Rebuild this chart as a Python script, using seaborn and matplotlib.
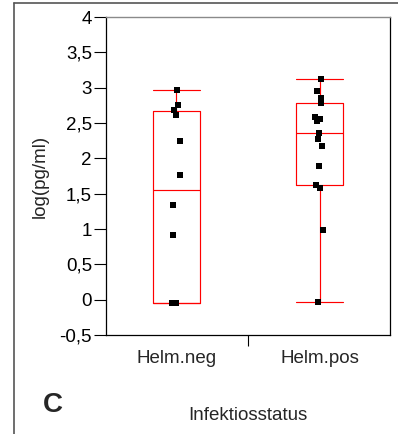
import numpy as np
import pandas as pd
import matplotlib
matplotlib.use("Agg")
import matplotlib.pyplot as plt
import matplotlib.cbook as cbook
from matplotlib.lines import Line2D
from matplotlib.ticker import FixedLocator
import seaborn as sns

# Cytokine levels by infection status
groups = ["Helm.neg", "Helm.pos"]
helm_neg = [2.96, 2.76, 2.69, 2.61, 2.24, 1.76, 1.34, 0.91, -0.05, -0.05, -0.05, -0.05]
helm_pos = [3.12, 2.95, 2.86, 2.78, 2.59, 2.56, 2.53, 2.36, 2.28, 2.18, 1.89, 1.62,
            1.58, 0.98, -0.03]
y_ticks = [-0.5, 0, 0.5, 1, 1.5, 2, 2.5, 3, 3.5, 4]
y_tick_labels = ["-0,5", "0", "0,5", "1", "1,5", "2", "2,5", "3", "3,5", "4"]
x_title = "Infektiosstatus"
y_title = "log(pg/ml)"
panel = "C"

df = pd.DataFrame({
    x_title: [groups[0]] * len(helm_neg) + [groups[1]] * len(helm_pos),
    y_title: helm_neg + helm_pos,
})

# Quartiles by the weighted-average (p*(n+1)) definition used by SPSS
_boxplot_stats = cbook.boxplot_stats


def spss_boxplot_stats(X, *args, **kwargs):
    stats = _boxplot_stats(X, *args, **kwargs)
    arr = np.asarray(X, dtype=object)
    if arr.ndim == 1 and len(arr) and np.ndim(arr[0]) == 0:
        columns = [np.asarray(X, dtype=float)]
    else:
        columns = [np.asarray(c, dtype=float) for c in X]
    for s, x in zip(stats, columns):
        q1, med, q3 = np.percentile(x, [25, 50, 75], method="weibull")
        s["q1"], s["med"], s["q3"] = q1, med, q3
        s["iqr"] = q3 - q1
    return stats


cbook.boxplot_stats = spss_boxplot_stats
matplotlib.cbook.boxplot_stats = spss_boxplot_stats

sns.set_style("white")
plt.rcParams["font.family"] = ["Liberation Sans", "DejaVu Sans"]

fig = plt.figure(figsize=(3.98, 4.34), dpi=100)
ax = fig.add_axes([106 / 398, 1 - 335 / 434, (390 - 106) / 398, (335 - 17) / 434])

box_w = 0.33
sns.boxplot(data=df, x=x_title, y=y_title, order=groups, ax=ax,
            fill=False, color="#ff0000", linewidth=0.85, width=box_w,
            whis=(0, 100), showfliers=False, capwidths=box_w)

np.random.seed(3)
sns.stripplot(data=df, x=x_title, y=y_title, order=groups, ax=ax,
              color="black", marker="s", size=3.7, linewidth=0, jitter=0.035)

ax.set_xlim(-0.49, 1.49)
ax.set_ylim(-0.5, 4)
ax.set_yticks(y_ticks)
ax.set_yticklabels(y_tick_labels)
ax.tick_params(axis="y", direction="out", length=8.6, width=0.8, pad=1.5,
               labelsize=13.5, colors="black", left=True)
ax.tick_params(axis="x", which="major", length=0, pad=10.8, labelsize=13.5)
ax.xaxis.set_minor_locator(FixedLocator([0.5]))
ax.tick_params(axis="x", which="minor", direction="out", length=8, width=0.8,
               bottom=True, color="black")

for side in ["left", "right", "bottom"]:
    ax.spines[side].set_color("black")
    ax.spines[side].set_linewidth(0.9)
ax.spines["top"].set_color("#8a8a8a")
ax.spines["top"].set_linewidth(1.0)

ax.set_ylabel(y_title, fontsize=13.5)
ax.yaxis.label.set(va="center", ha="center", rotation_mode="anchor")
ax.yaxis.set_label_coords(-0.232, 0.5)
ax.set_xlabel(x_title, fontsize=13.5)
ax.xaxis.label.set(va="center", ha="center")
ax.xaxis.set_label_coords(0.5, -0.2516)

fig.text(53 / 398, 1 - 405 / 434, panel, fontsize=20, fontweight="bold",
         ha="center", va="center")

# Outer panel border (top and left edges)
fig.add_artist(Line2D([14 / 398, 1], [1 - 3 / 434, 1 - 3 / 434],
                      transform=fig.transFigure, color="#555555", lw=1.2))
fig.add_artist(Line2D([14 / 398, 14 / 398], [0, 1 - 3 / 434],
                      transform=fig.transFigure, color="#555555", lw=1.2))

fig.savefig("out.png", dpi=100)
